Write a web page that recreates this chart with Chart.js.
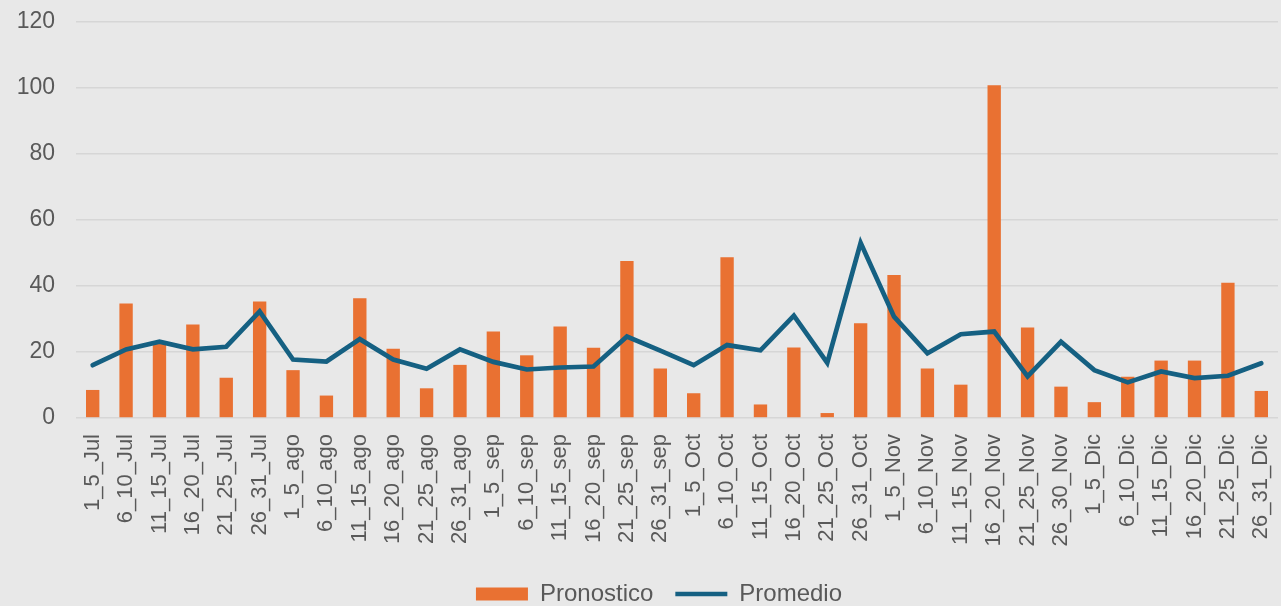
<!DOCTYPE html>
<html>
<head>
<meta charset="utf-8">
<script src="https://cdn.jsdelivr.net/npm/chart.js@4"></script>
<style>
  body { margin: 0; background: #e8e8e8; overflow: hidden; }
  canvas { display: block; }
</style>
</head>
<body>
<canvas id="myChart" width="1281" height="606"></canvas>
<script>
const labels = [
  "1_5_Jul", "6_10_Jul", "11_15_Jul", "16_20_Jul", "21_25_Jul", "26_31_Jul",
  "1_5_ago", "6_10_ago", "11_15_ago", "16_20_ago", "21_25_ago", "26_31_ago",
  "1_5_sep", "6_10_sep", "11_15_sep", "16_20_sep", "21_25_sep", "26_31_sep",
  "1_5_Oct", "6_10_Oct", "11_15_Oct", "16_20_Oct", "21_25_Oct", "26_31_Oct",
  "1_5_Nov", "6_10_Nov", "11_15_Nov", "16_20_Nov", "21_25_Nov", "26_30_Nov",
  "1_5_Dic", "6_10_Dic", "11_15_Dic", "16_20_Dic", "21_25_Dic", "26_31_Dic"
];

const pronostico = [
  8.5, 34.7, 22.4, 28.3, 12.2, 35.3,
  14.5, 6.8, 36.3, 21.0, 9.0, 16.1,
  26.2, 19.0, 27.7, 21.3, 47.6, 15.0,
  7.5, 48.7, 4.1, 21.4, 1.5, 28.7,
  43.3, 15.0, 10.1, 100.8, 27.4, 9.5,
  4.8, 12.5, 17.4, 17.4, 41.0, 8.2
];

const promedio = [
  16.0, 20.8, 23.1, 20.8, 21.6, 32.3,
  17.7, 17.1, 23.9, 17.7, 14.9, 20.8,
  17.0, 14.7, 15.3, 15.6, 24.7, 20.4,
  16.0, 22.1, 20.5, 31.0, 16.7, 53.1,
  30.7, 19.6, 25.4, 26.2, 12.6, 23.1,
  14.5, 10.8, 14.1, 12.1, 12.8, 16.6
];

const yTicks = [0, 20, 40, 60, 80, 100, 120];

Chart.defaults.font.family = "'Liberation Sans', Arial, sans-serif";
Chart.defaults.color = "#595959";

// nudge the legend a bit to the right, like the original
const legendShift = {
  id: "legendShift",
  afterLayout(chart) {
    if (chart.legend) {
      chart.legend.left += 20;
      chart.legend.right += 20;
    }
  },
};

const ctx = document.getElementById("myChart").getContext("2d");
const myChart = new Chart(ctx, {
  type: "bar",
  data: {
    labels: labels,
    datasets: [
      {
        type: "bar",
        label: "Pronostico",
        data: pronostico,
        backgroundColor: "#e97132",
        barPercentage: 0.4,
        categoryPercentage: 1,
        pointStyle: "rect",
        order: 2,
      },
      {
        type: "line",
        label: "Promedio",
        data: promedio,
        borderColor: "#156082",
        backgroundColor: "#156082",
        borderWidth: 4.7,
        borderCapStyle: "round",
        borderJoinStyle: "miter",
        pointRadius: 0,
        pointStyle: "line",
        tension: 0,
        order: 1,
      },
    ],
  },
  options: {
    responsive: false,
    animation: false,
    layout: {
      padding: { top: 22, right: 3, left: 0, bottom: -10 },
    },
    scales: {
      x: {
        grid: { display: false, drawTicks: false },
        border: { display: false },
        ticks: {
          autoSkip: false,
          minRotation: 90,
          maxRotation: 90,
          padding: 16,
          font: { size: 22 },
          color: "#595959",
        },
        afterFit: function (scale) {
          scale.height = 142;
          scale.paddingLeft = 0;
          scale.paddingRight = 0;
        },
      },
      y: {
        min: 0,
        max: 120,
        afterBuildTicks: function (scale) {
          scale.ticks = yTicks.map(function (v) { return { value: v }; });
        },
        grid: { color: "#d6d6d6", lineWidth: 1.6, drawTicks: false },
        border: { display: false },
        ticks: {
          padding: 21,
          font: { size: 23 },
          color: "#595959",
        },
        afterFit: function (scale) {
          scale.width = 76;
          scale.paddingTop = 0;
          scale.paddingBottom = 0;
        },
      },
    },
    plugins: {
      legend: {
        position: "bottom",
        labels: {
          usePointStyle: true,
          pointStyleWidth: 52,
          boxHeight: 13,
          padding: 22,
          font: { size: 24 },
          color: "#595959",
          sort: function (a, b) { return a.datasetIndex - b.datasetIndex; },
        },
      },
      tooltip: { enabled: false },
    },
  },
  plugins: [legendShift],
});
</script>
</body>
</html>
